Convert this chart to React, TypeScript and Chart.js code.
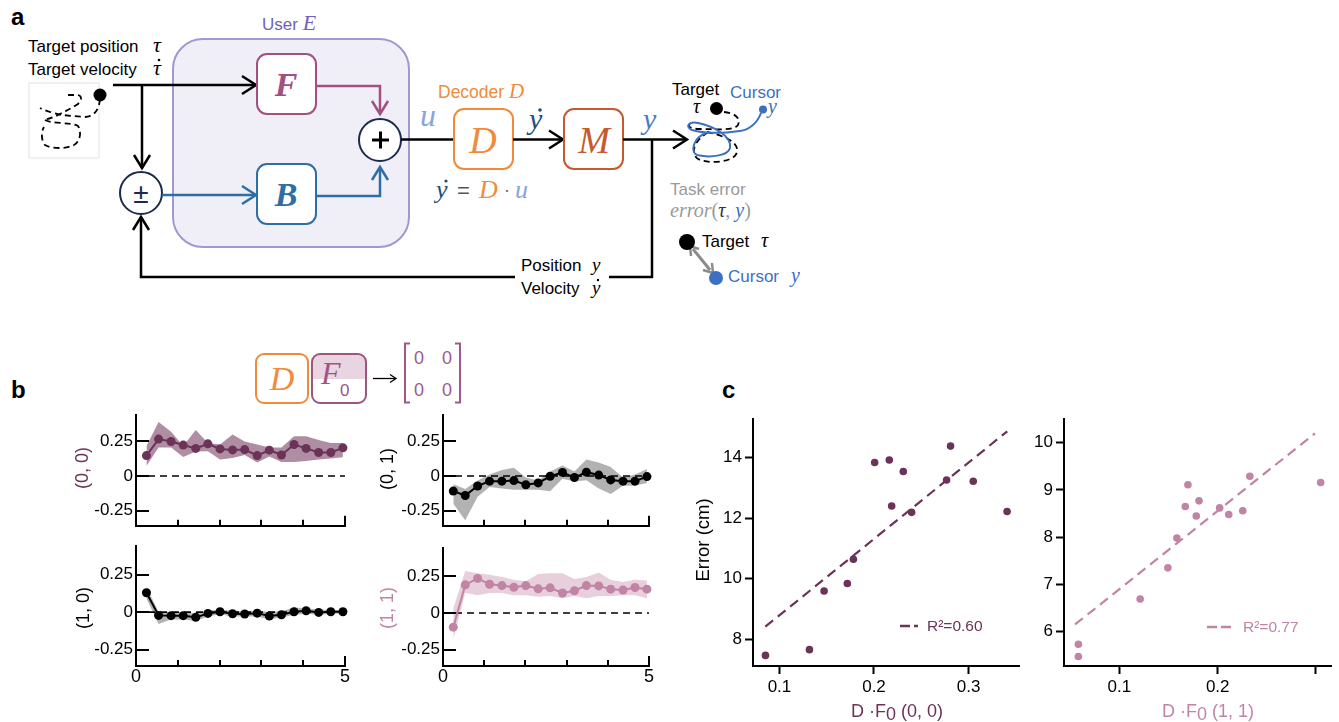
import React, { useEffect, useRef } from 'react';
import { Chart, registerables } from 'chart.js';

Chart.register(...registerables);

const SANS = '"Liberation Sans", Arial, Helvetica, sans-serif';
const SERIF = '"Liberation Serif", "DejaVu Serif", "Times New Roman", serif';
Chart.defaults.font.family = SANS;

// ---------- colours ----------
const PURPLE = '#6b3358';
const PINK = '#c184a5';
const BLACK = '#000000';
const PURPLE_BAND = 'rgba(110,50,88,0.55)';
const PINK_BAND = 'rgba(192,128,160,0.38)';
const GRAY_BAND = 'rgba(0,0,0,0.30)';

// ---------- panel b data ----------
const timeX = [0.25, 0.54, 0.84, 1.13, 1.43, 1.72, 2.01, 2.31, 2.6, 2.9, 3.19, 3.48, 3.78, 4.07, 4.37, 4.66, 4.95];
const bXTicks = [0, 1, 2, 3, 4, 5];
const bXLabels = [0, 5];
const bYTicks = [-0.25, 0, 0.25];

const mean00 = [0.148, 0.267, 0.25, 0.224, 0.2, 0.233, 0.196, 0.189, 0.191, 0.148, 0.187, 0.152, 0.228, 0.2, 0.17, 0.17, 0.204];
const upper00 = [0.217, 0.391, 0.32, 0.217, 0.333, 0.239, 0.228, 0.3, 0.25, 0.228, 0.207, 0.207, 0.287, 0.287, 0.261, 0.239, 0.239];
const lower00 = [0.072, 0.207, 0.207, 0.137, 0.178, 0.18, 0.12, 0.13, 0.152, 0.098, 0.141, 0.102, 0.102, 0.109, 0.12, 0.126, 0.135];

const mean01 = [-0.109, -0.141, -0.072, -0.037, -0.037, -0.033, -0.063, -0.05, -0.002, 0.026, -0.011, 0.028, 0.007, -0.028, -0.037, -0.037, -0.004];
const upper01 = [-0.059, -0.093, -0.033, 0.011, 0.043, 0.059, -0.011, -0.033, 0.033, 0.076, 0.033, 0.12, 0.098, 0.065, -0.011, 0.011, 0.05];
const lower01 = [-0.2, -0.32, -0.15, -0.08, -0.09, -0.1, -0.1, -0.1, -0.11, -0.02, -0.04, -0.03, -0.09, -0.13, -0.07, -0.07, -0.05];

const mean10 = [0.129, -0.022, -0.024, -0.024, -0.035, -0.009, 0.002, -0.011, -0.013, -0.007, -0.026, -0.018, 0.002, 0.009, -0.002, 0.002, 0.002];
const upper10 = [0.17, 0.0, 0.0, 0.0, -0.01, 0.01, 0.015, 0.01, 0.005, 0.01, 0.0, 0.005, 0.03, 0.025, 0.015, 0.015, 0.012];
const lower10 = [0.09, -0.08, -0.05, -0.05, -0.06, -0.03, -0.015, -0.03, -0.03, -0.03, -0.05, -0.035, -0.02, -0.01, -0.02, -0.01, -0.01];

const mean11 = [-0.096, 0.191, 0.235, 0.195, 0.186, 0.175, 0.186, 0.164, 0.171, 0.136, 0.151, 0.186, 0.184, 0.162, 0.156, 0.173, 0.162];
const upper11 = [0.03, 0.285, 0.27, 0.26, 0.245, 0.225, 0.215, 0.265, 0.27, 0.27, 0.23, 0.245, 0.275, 0.225, 0.21, 0.225, 0.22];
const lower11 = [-0.18, 0.135, 0.12, 0.135, 0.135, 0.12, 0.12, 0.11, 0.115, 0.1, 0.115, 0.1, 0.115, 0.115, 0.12, 0.12, 0.1];

const zeroLineX = [0, 5];

// ---------- panel c data ----------
const c00X = [0.0852, 0.1317, 0.1472, 0.1718, 0.1782, 0.2007, 0.2162, 0.2187, 0.231, 0.2398, 0.2768, 0.281, 0.305, 0.3408];
const c00Y = [7.46, 7.65, 9.59, 9.84, 10.64, 13.84, 13.92, 12.4, 13.54, 12.19, 13.26, 14.38, 13.22, 12.22];
const c00FitX = [0.085, 0.341];
const c00FitY = [8.41, 14.87];
const c00XTicks = [0.1, 0.2, 0.3];
const c00XTickLabels = ['0.1', '0.2', '0.3'];
const c00YTicks = [8, 10, 12, 14];

const c11X = [0.0582, 0.0582, 0.1211, 0.1493, 0.1585, 0.167, 0.1697, 0.1782, 0.181, 0.202, 0.2112, 0.2255, 0.2327, 0.3048];
const c11Y = [5.73, 5.47, 6.69, 7.35, 7.98, 8.65, 9.11, 8.45, 8.77, 8.62, 8.48, 8.56, 9.29, 9.16];
const c11FitX = [0.0548, 0.299];
const c11FitY = [6.15, 10.2];
const c11XTicks = [0.1, 0.2, 0.3];
const c11XTickLabels = ['0.1', '0.2', ''];
const c11YTicks = [6, 7, 8, 9, 10];

// ---------- helpers ----------
const pts = (xs: number[], ys: number[]) => xs.map((x, i) => ({ x, y: ys[i] }));

type Box = { L: number; T: number; R: number; B: number; yW: number; xH: number; pl: number; pt: number; pr: number; pb: number };
function place(b: Box) {
  const left = b.L - b.yW - b.pl;
  const top = b.T - b.pt;
  const width = b.R + b.pr - left;
  const height = b.B + b.xH + b.pb - top;
  return { left, top, width, height };
}

const inwardTicks = {
  id: 'inwardTicks',
  afterDatasetsDraw(chart: any) {
    const { ctx, chartArea } = chart;
    const xs = chart.scales.x;
    const ys = chart.scales.y;
    ctx.save();
    ctx.strokeStyle = '#000';
    ctx.lineWidth = 2;
    ctx.beginPath();
    for (const v of bYTicks) {
      const py = Math.round(ys.getPixelForValue(v));
      ctx.moveTo(chartArea.left, py);
      ctx.lineTo(chartArea.left + 13, py);
    }
    for (const v of bXTicks) {
      if (v === 0) continue;
      const px = Math.round(xs.getPixelForValue(v));
      const len = v === 5 ? 10 : 6;
      ctx.moveTo(px, chartArea.bottom);
      ctx.lineTo(px, chartArea.bottom - len);
    }
    ctx.stroke();
    ctx.restore();
  },
};

const baseOpts = {
  animation: false as const,
  responsive: false,
  devicePixelRatio: 1,
  events: [] as any[],
  plugins: { legend: { display: false }, tooltip: { enabled: false } },
};

function bConfig(box: Box, mean: number[], up: number[], lo: number[], color: string, band: string, showX: boolean) {
  return {
    type: 'line',
    data: {
      datasets: [
        { data: pts(timeX, mean), borderColor: color, backgroundColor: color, borderWidth: 2, pointRadius: 4.5, pointBackgroundColor: color, pointBorderWidth: 0, tension: 0, order: 0, clip: false, fill: false },
        { data: pts(zeroLineX, [0, 0]), borderColor: '#000', borderWidth: 1.6, borderDash: [7, 5], pointRadius: 0, order: 1, fill: false },
        { data: pts(timeX, up), borderColor: 'rgba(0,0,0,0)', borderWidth: 0.01, pointRadius: 0, backgroundColor: band, fill: '+1', order: 2 },
        { data: pts(timeX, lo), borderColor: 'rgba(0,0,0,0)', borderWidth: 0.01, pointRadius: 0, fill: false, order: 3 },
      ],
    },
    options: {
      ...baseOpts,
      layout: { padding: { left: box.pl, top: box.pt, right: box.pr, bottom: box.pb } },
      scales: {
        x: {
          type: 'linear', min: 0, max: 5,
          afterBuildTicks: (s: any) => { s.ticks = bXLabels.map((v) => ({ value: v })); },
          afterFit: (s: any) => { s.height = box.xH; },
          ticks: { display: showX, color: '#000', font: { family: SANS, size: 18 }, padding: 0, maxRotation: 0, autoSkip: false, callback: (v: any) => String(v) },
          grid: { display: false, drawTicks: false },
          border: { display: true, color: '#000', width: 2 },
        },
        y: {
          type: 'linear', min: -0.36, max: 0.44,
          afterBuildTicks: (s: any) => { s.ticks = bYTicks.map((v) => ({ value: v })); },
          afterFit: (s: any) => { s.width = box.yW; },
          ticks: { color: '#000', font: { family: SANS, size: 17 }, padding: 3, callback: (v: any) => (v === 0 ? '0' : Number(v).toFixed(2)) },
          grid: { display: false, drawTicks: false },
          border: { display: true, color: '#000', width: 2 },
        },
      },
    },
    plugins: [inwardTicks],
  };
}

function cConfig(box: Box, xs: number[], ys: number[], fx: number[], fy: number[], color: string,
  xmin: number, xmax: number, ymin: number, ymax: number, xt: number[], xl: string[], yt: number[]) {
  return {
    type: 'scatter',
    data: {
      datasets: [
        { type: 'line', data: pts(fx, fy), borderColor: color, borderWidth: 2.2, borderDash: [10, 6], pointRadius: 0, order: 0, fill: false },
        { data: pts(xs, ys), backgroundColor: color, pointRadius: 3.8, pointBorderWidth: 0, order: 1, clip: false },
      ],
    },
    options: {
      ...baseOpts,
      layout: { padding: { left: box.pl, top: box.pt, right: box.pr, bottom: box.pb } },
      scales: {
        x: {
          type: 'linear', min: xmin, max: xmax,
          afterBuildTicks: (s: any) => { s.ticks = xt.map((v) => ({ value: v })); },
          afterFit: (s: any) => { s.height = box.xH; },
          ticks: { color: '#000', font: { family: SANS, size: 17 }, padding: 3, maxRotation: 0, autoSkip: false, callback: (v: any) => xl[xt.indexOf(Number(v))] ?? '' },
          grid: { display: true, drawOnChartArea: false, drawTicks: true, tickLength: 8, tickWidth: 2, tickColor: '#000' },
          border: { display: true, color: '#000', width: 2 },
        },
        y: {
          type: 'linear', min: ymin, max: ymax,
          afterBuildTicks: (s: any) => { s.ticks = yt.map((v) => ({ value: v })); },
          afterFit: (s: any) => { s.width = box.yW; },
          ticks: { color: '#000', font: { family: SANS, size: 17 }, padding: 3, callback: (v: any) => String(v) },
          grid: { display: true, drawOnChartArea: false, drawTicks: true, tickLength: 8, tickWidth: 2, tickColor: '#000' },
          border: { display: true, color: '#000', width: 2 },
        },
      },
    },
  };
}

function ChartBox({ box, make }: { box: Box; make: () => any }) {
  const ref = useRef<HTMLCanvasElement>(null);
  const p = place(box);
  useEffect(() => {
    const chart = new Chart(ref.current as HTMLCanvasElement, make());
    return () => chart.destroy();
  }, []);
  return <canvas ref={ref} width={p.width} height={p.height} style={{ position: 'absolute', left: p.left, top: p.top, width: p.width, height: p.height }} />;
}

// ---------- layout boxes ----------
const boxTL: Box = { L: 136, T: 412, R: 345, B: 533, yW: 52, xH: 4, pl: 0, pt: 10, pr: 12, pb: 2 };
const boxBL: Box = { L: 136, T: 543, R: 345, B: 666, yW: 52, xH: 24, pl: 0, pt: 10, pr: 12, pb: 2 };
const boxTR: Box = { L: 443, T: 412, R: 649, B: 533, yW: 52, xH: 4, pl: 0, pt: 10, pr: 12, pb: 2 };
const boxBR: Box = { L: 443, T: 545, R: 649, B: 666, yW: 52, xH: 24, pl: 0, pt: 10, pr: 12, pb: 2 };
const boxC0: Box = { L: 753, T: 416, R: 1019, B: 666, yW: 62, xH: 40, pl: 0, pt: 10, pr: 8, pb: 0 };
const boxC1: Box = { L: 1064, T: 416, R: 1331, B: 666, yW: 62, xH: 40, pl: 0, pt: 10, pr: 6, pb: 0 };

// ---------- diagram pieces ----------
const NAVY = '#1c2a4e';
const FCOL = '#a2507f';
const BCOL = '#2f6ea5';
const DCOL = '#f08b3b';
const MCOL = '#c65a2e';
const UCOL = '#86a6dc';
const YDOT = '#244c7d';
const YCOL = '#4a7bc8';
const CURS = '#3d6fc2';
const USER = '#6f61b5';
const FS = 17;

function Chev({ x, y, dir, color, d = 13, w = 8 }: { x: number; y: number; dir: string; color: string; d?: number; w?: number }) {
  let p = '';
  if (dir === 'r') p = `${x - d},${y - w} ${x},${y} ${x - d},${y + w}`;
  if (dir === 'd') p = `${x - w},${y - d} ${x},${y} ${x + w},${y - d}`;
  if (dir === 'u') p = `${x - w},${y + d} ${x},${y} ${x + w},${y + d}`;
  return <polyline points={p} fill="none" stroke={color} strokeWidth={2.5} />;
}

function Diagram() {
  const serifI = { fontFamily: SERIF, fontStyle: 'italic' as const };
  return (
    <svg width={800} height={300} style={{ position: 'absolute', left: 0, top: 0 }}>
      <text x={11} y={25} fontFamily={SANS} fontWeight="bold" fontSize={24}>a</text>
      {/* User box */}
      <rect x={173} y={39} width={236} height={208} rx={30} fill="#f0eff7" stroke="#a397d1" strokeWidth={2} />
      <text x={262} y={30} fontFamily={SANS} fontSize={FS} fill={USER}>User <tspan {...serifI} fontSize={22}>E</tspan></text>
      {/* target texts */}
      <text x={28} y={52} fontFamily={SANS} fontSize={FS}>Target position</text>
      <text x={153} y={52} {...serifI} fontSize={22}>τ</text>
      <text x={28} y={75} fontFamily={SANS} fontSize={FS}>Target velocity</text>
      <text x={153} y={75} {...serifI} fontSize={22}>τ</text>
      <circle cx={159} cy={60} r={1.3} fill="#000" />
      {/* thumbnail */}
      <rect x={29} y={83} width={70} height={75} fill="#fff" stroke="#e2e2e2" strokeWidth={1} />
      <g fill="none" stroke="#000" strokeWidth={1.8} strokeDasharray="6 4">
        <path d="M 100 99 C 99 110, 94 117, 84 117 L 62 115 C 52 113, 44 110, 40 108" />
        <path d="M 68 95 L 78 95 C 82 96, 82 100, 78 104 C 72 108, 66 111, 60 114 C 52 118, 46 120, 44 119" />
        <path d="M 45 120 C 52 124, 70 122, 78 126 C 82 132, 80 142, 74 145 C 66 149, 52 149, 45 145 C 41 140, 41 132, 44 127" />
      </g>
      <circle cx={100} cy={95} r={6.5} fill="#000" />
      {/* top line to F */}
      <line x1={113} y1={85} x2={256} y2={85} stroke="#000" strokeWidth={2.5} />
      <Chev x={256} y={85} dir="r" color="#000" d={14} w={9} />
      <line x1={142} y1={85} x2={142} y2={168} stroke="#000" strokeWidth={2.5} />
      <Chev x={142} y={168} dir="d" color="#000" />
      {/* ± circle */}
      <circle cx={141} cy={193} r={21} fill="#fff" stroke={NAVY} strokeWidth={2} />
      <text x={141} y={203} textAnchor="middle" fontFamily={SANS} fontSize={28} fill={NAVY}>±</text>
      {/* to B */}
      <line x1={162} y1={195} x2={256} y2={195} stroke={BCOL} strokeWidth={2.5} />
      <Chev x={256} y={195} dir="r" color={BCOL} d={14} w={9} />
      {/* F box */}
      <rect x={257} y={54} width={59} height={60} rx={10} fill="#fff" stroke={FCOL} strokeWidth={2} />
      <text x={286} y={96} textAnchor="middle" fontFamily={SERIF} fontStyle="italic" fontWeight="bold" fontSize={34} fill={FCOL}>F</text>
      {/* B box */}
      <rect x={257} y={164} width={59} height={60} rx={10} fill="#fff" stroke={BCOL} strokeWidth={2} />
      <text x={286} y={206} textAnchor="middle" fontFamily={SERIF} fontStyle="italic" fontWeight="bold" fontSize={34} fill={BCOL}>B</text>
      {/* F out */}
      <polyline points="316,86 380,86 380,113" fill="none" stroke={FCOL} strokeWidth={2.5} />
      <Chev x={380} y={114} dir="d" color={FCOL} />
      {/* B out */}
      <polyline points="316,196 380,196 380,168" fill="none" stroke={BCOL} strokeWidth={2.5} />
      <Chev x={380} y={167} dir="u" color={BCOL} />
      {/* + circle */}
      <circle cx={380} cy={140} r={21} fill="#fff" stroke={NAVY} strokeWidth={2} />
      <line x1={372} y1={140} x2={389} y2={140} stroke="#000" strokeWidth={3} />
      <line x1={380.5} y1={131.5} x2={380.5} y2={148.5} stroke="#000" strokeWidth={3} />
      {/* to D */}
      <line x1={401} y1={139.5} x2={454} y2={139.5} stroke="#000" strokeWidth={2.5} />
      <text x={420} y={126} {...serifI} fontSize={32} fill={UCOL}>u</text>
      <text x={438} y={98} fontFamily={SANS} fontSize={17.5} fill={DCOL}>Decoder <tspan {...serifI} fontSize={21}>D</tspan></text>
      <rect x={454} y={109} width={59} height={60} rx={10} fill="#fff" stroke={DCOL} strokeWidth={2} />
      <text x={483} y={153} textAnchor="middle" {...serifI} fontSize={38} fill={DCOL}>D</text>
      {/* D -> M */}
      <line x1={513} y1={139.5} x2={562} y2={139.5} stroke="#000" strokeWidth={2.5} />
      <Chev x={563} y={139.5} dir="r" color="#000" d={14} w={9} />
      <text x={529} y={129} {...serifI} fontSize={30} fill={YDOT}>y</text>
      <circle cx={540} cy={110} r={1.8} fill={YDOT} />
      <rect x={564} y={109} width={59} height={60} rx={10} fill="#fff" stroke={MCOL} strokeWidth={2} />
      <text x={594} y={153} textAnchor="middle" {...serifI} fontSize={38} fill={MCOL}>M</text>
      {/* M -> traj */}
      <line x1={623} y1={139.5} x2={686} y2={139.5} stroke="#000" strokeWidth={2.5} />
      <Chev x={687} y={139.5} dir="r" color="#000" d={14} w={9} />
      <text x={643} y={129} {...serifI} fontSize={30} fill={YCOL}>y</text>
      {/* equation */}
      <text x={436} y={198} {...serifI} fontSize={26} fill={YDOT}>y</text>
      <circle cx={446} cy={181} r={1.6} fill={YDOT} />
      <text x={457} y={198} fontFamily={SANS} fontSize={22} fill="#555">=</text>
      <text x={479} y={198} {...serifI} fontSize={26} fill={DCOL}>D</text>
      <text x={504} y={196} fontFamily={SANS} fontSize={18} fill="#666">·</text>
      <text x={515} y={198} {...serifI} fontSize={26} fill={UCOL}>u</text>
      {/* feedback */}
      <polyline points="652,139.5 652,277 609,277" fill="none" stroke="#000" strokeWidth={2.5} />
      <polyline points="515,277 141,277 141,217" fill="none" stroke="#000" strokeWidth={2.5} />
      <Chev x={141} y={217} dir="u" color="#000" />
      <text x={521} y={271} fontFamily={SANS} fontSize={FS}>Position</text>
      <text x={592} y={271} {...serifI} fontSize={19}>y</text>
      <text x={521} y={294} fontFamily={SANS} fontSize={FS}>Velocity</text>
      <text x={592} y={294} {...serifI} fontSize={19}>y</text>
      <circle cx={598} cy={280} r={1.2} fill="#000" />
      {/* trajectory pictogram */}
      <text x={672} y={95} fontFamily={SANS} fontSize={FS}>Target</text>
      <text x={693} y={113} {...serifI} fontSize={20}>τ</text>
      <g fill="none" stroke="#000" strokeWidth={1.8} strokeDasharray="6 4">
        <path d="M 724 112 C 735 113, 741 118, 738 125 C 734 131, 716 129, 700 129 C 690 129, 687 126, 690 124" />
        <path d="M 707 132 C 721 135, 739 141, 737 152 C 735 162, 712 164, 700 160 C 690 156, 692 142, 707 133" />
      </g>
      <path d="M 761 113 C 757 124, 748 130, 740 131 C 725 133, 705 134, 692 130 C 685 127, 688 121, 698 123 C 712 126, 732 135, 730 148 C 728 156, 710 158, 697 155 C 690 152, 693 138, 706 133" fill="none" stroke={CURS} strokeWidth={2} />
      <circle cx={716.5} cy={108.5} r={6.5} fill="#000" />
      <text x={730} y={98} fontFamily={SANS} fontSize={FS} fill={CURS}>Cursor</text>
      <circle cx={763} cy={109.5} r={4} fill={CURS} />
      <text x={768} y={113} {...serifI} fontSize={20} fill={CURS}>y</text>
      {/* task error */}
      <text x={670} y={195} fontFamily={SANS} fontSize={FS} fill="#9a9a9a">Task error</text>
      <text x={670} y={217} fontFamily={SERIF} fontSize={20} fill="#9a9a9a"><tspan fontStyle="italic">error</tspan>(<tspan fontStyle="italic" fill="#333">τ</tspan>, <tspan fontStyle="italic" fill={CURS}>y</tspan>)</text>
      <line x1={693} y1={249} x2={710} y2={270} stroke="#8c8c8c" strokeWidth={3} />
      <polyline points="691,256 690,246 699,249" fill="none" stroke="#8c8c8c" strokeWidth={2.5} />
      <polyline points="703,270 713,273 712,263" fill="none" stroke="#8c8c8c" strokeWidth={2.5} />
      <circle cx={687} cy={242} r={8} fill="#000" />
      <text x={702} y={247} fontFamily={SANS} fontSize={FS}>Target</text>
      <text x={761} y={247} {...serifI} fontSize={20}>τ</text>
      <circle cx={716} cy={278} r={7} fill={CURS} />
      <text x={728} y={282} fontFamily={SANS} fontSize={FS} fill={CURS}>Cursor</text>
      <text x={791} y={282} {...serifI} fontSize={20} fill={CURS}>y</text>
    </svg>
  );
}

function BHeader() {
  return (
    <svg width={480} height={80} style={{ position: 'absolute', left: 0, top: 335 }}>
      <g transform="translate(0,-335)">
        <defs>
          <clipPath id="fclip"><rect x={312} y={354} width={54} height={49} rx={8} /></clipPath>
        </defs>
        <rect x={256} y={354} width={52} height={49} rx={8} fill="#fff" stroke={DCOL} strokeWidth={2} />
        <text x={282} y={390} textAnchor="middle" fontFamily={SERIF} fontStyle="italic" fontSize={34} fill={DCOL}>D</text>
        <rect x={312} y={354} width={54} height={25} fill="#e9d5e1" clipPath="url(#fclip)" />
        <rect x={312} y={354} width={54} height={49} rx={8} fill="none" stroke="#9e5580" strokeWidth={2} />
        <text x={321} y={384} fontFamily={SERIF} fontStyle="italic" fontSize={32} fill="#9e5580">F</text>
        <text x={340} y={396} fontFamily={SANS} fontSize={17} fill="#9e5580">0</text>
        <line x1={373} y1={378.5} x2={395} y2={378.5} stroke="#000" strokeWidth={1.3} />
        <polyline points="390,374.5 396,378.5 390,382.5" fill="none" stroke="#000" strokeWidth={1.3} />
        <polyline points="410,343.5 405,343.5 405,402.5 410,402.5" fill="none" stroke="#a0588a" strokeWidth={2} />
        <polyline points="455,343.5 460,343.5 460,402.5 455,402.5" fill="none" stroke="#a0588a" strokeWidth={2} />
        <text x={419} y={364} textAnchor="middle" fontFamily={SANS} fontSize={18} fill="#a0588a">0</text>
        <text x={447} y={364} textAnchor="middle" fontFamily={SANS} fontSize={18} fill="#a0588a">0</text>
        <text x={419} y={396} textAnchor="middle" fontFamily={SANS} fontSize={18} fill="#a0588a">0</text>
        <text x={447} y={396} textAnchor="middle" fontFamily={SANS} fontSize={18} fill="#a0588a">0</text>
      </g>
    </svg>
  );
}

const rotLabel = (text: string, cx: number, cy: number, color: string, size = 18) => (
  <div style={{ position: 'absolute', left: cx - 100, top: cy - 12, width: 200, height: 24, lineHeight: '24px', textAlign: 'center', transform: 'rotate(-90deg)', fontFamily: SANS, fontSize: size, color, whiteSpace: 'nowrap' }}>{text}</div>
);

function Legend({ x1, x2, y, tx, label, color }: { x1: number; x2: number; y: number; tx: number; label: string; color: string }) {
  return (
    <>
      <svg width={40} height={10} style={{ position: 'absolute', left: x1, top: y - 5 }}>
        <line x1={0} y1={5} x2={x2 - x1} y2={5} stroke={color} strokeWidth={2.5} strokeDasharray="10 4" />
      </svg>
      <div style={{ position: 'absolute', left: tx, top: y - 10, height: 20, lineHeight: '20px', fontFamily: SANS, fontSize: 15.5, color, whiteSpace: 'nowrap' }}>{label}</div>
    </>
  );
}

function XTitle({ cx, y, color, idx }: { cx: number; y: number; color: string; idx: string }) {
  return (
    <div style={{ position: 'absolute', left: cx - 100, top: y - 12, width: 200, height: 24, lineHeight: '24px', textAlign: 'center', fontFamily: SANS, fontSize: 18, color, whiteSpace: 'nowrap' }}>
      D ·F<span style={{ position: 'relative', top: 3 }}>0</span> {idx}
    </div>
  );
}

export default function App() {
  return (
    <div style={{ position: 'absolute', left: 0, top: 0, width: 1339, height: 722, background: '#fff', overflow: 'hidden' }}>
      <Diagram />
      <BHeader />
      <div style={{ position: 'absolute', left: 11, top: 376, fontFamily: SANS, fontWeight: 'bold', fontSize: 24 }}>b</div>
      <div style={{ position: 'absolute', left: 722, top: 376, fontFamily: SANS, fontWeight: 'bold', fontSize: 24 }}>c</div>

      <ChartBox box={boxTL} make={() => bConfig(boxTL, mean00, upper00, lower00, PURPLE, PURPLE_BAND, false)} />
      <ChartBox box={boxTR} make={() => bConfig(boxTR, mean01, upper01, lower01, BLACK, GRAY_BAND, false)} />
      <ChartBox box={boxBL} make={() => bConfig(boxBL, mean10, upper10, lower10, BLACK, GRAY_BAND, true)} />
      <ChartBox box={boxBR} make={() => bConfig(boxBR, mean11, upper11, lower11, PINK, PINK_BAND, true)} />
      {rotLabel('(0, 0)', 82, 468, PURPLE)}
      {rotLabel('(1, 0)', 83, 608, '#000')}
      {rotLabel('(0, 1)', 387, 469, '#000')}
      {rotLabel('(1, 1)', 387, 608, PINK)}

      <ChartBox box={boxC0} make={() => cConfig(boxC0, c00X, c00Y, c00FitX, c00FitY, PURPLE, 0.072, 0.3534, 7.11, 15.27, c00XTicks, c00XTickLabels, c00YTicks)} />
      <ChartBox box={boxC1} make={() => cConfig(boxC1, c11X, c11Y, c11FitX, c11FitY, PINK, 0.0436, 0.3153, 5.27, 10.5, c11XTicks, c11XTickLabels, c11YTicks)} />
      {rotLabel('Error (cm)', 703, 540, '#000', 18.5)}
      <XTitle cx={897} y={711} color={PURPLE} idx="(0, 0)" />
      <XTitle cx={1208} y={711} color={PINK} idx="(1, 1)" />
      <Legend x1={900} x2={918} y={626} tx={927} label="R²=0.60" color={PURPLE} />
      <Legend x1={1207} x2={1232} y={627} tx={1243} label="R²=0.77" color={PINK} />
    </div>
  );
}
